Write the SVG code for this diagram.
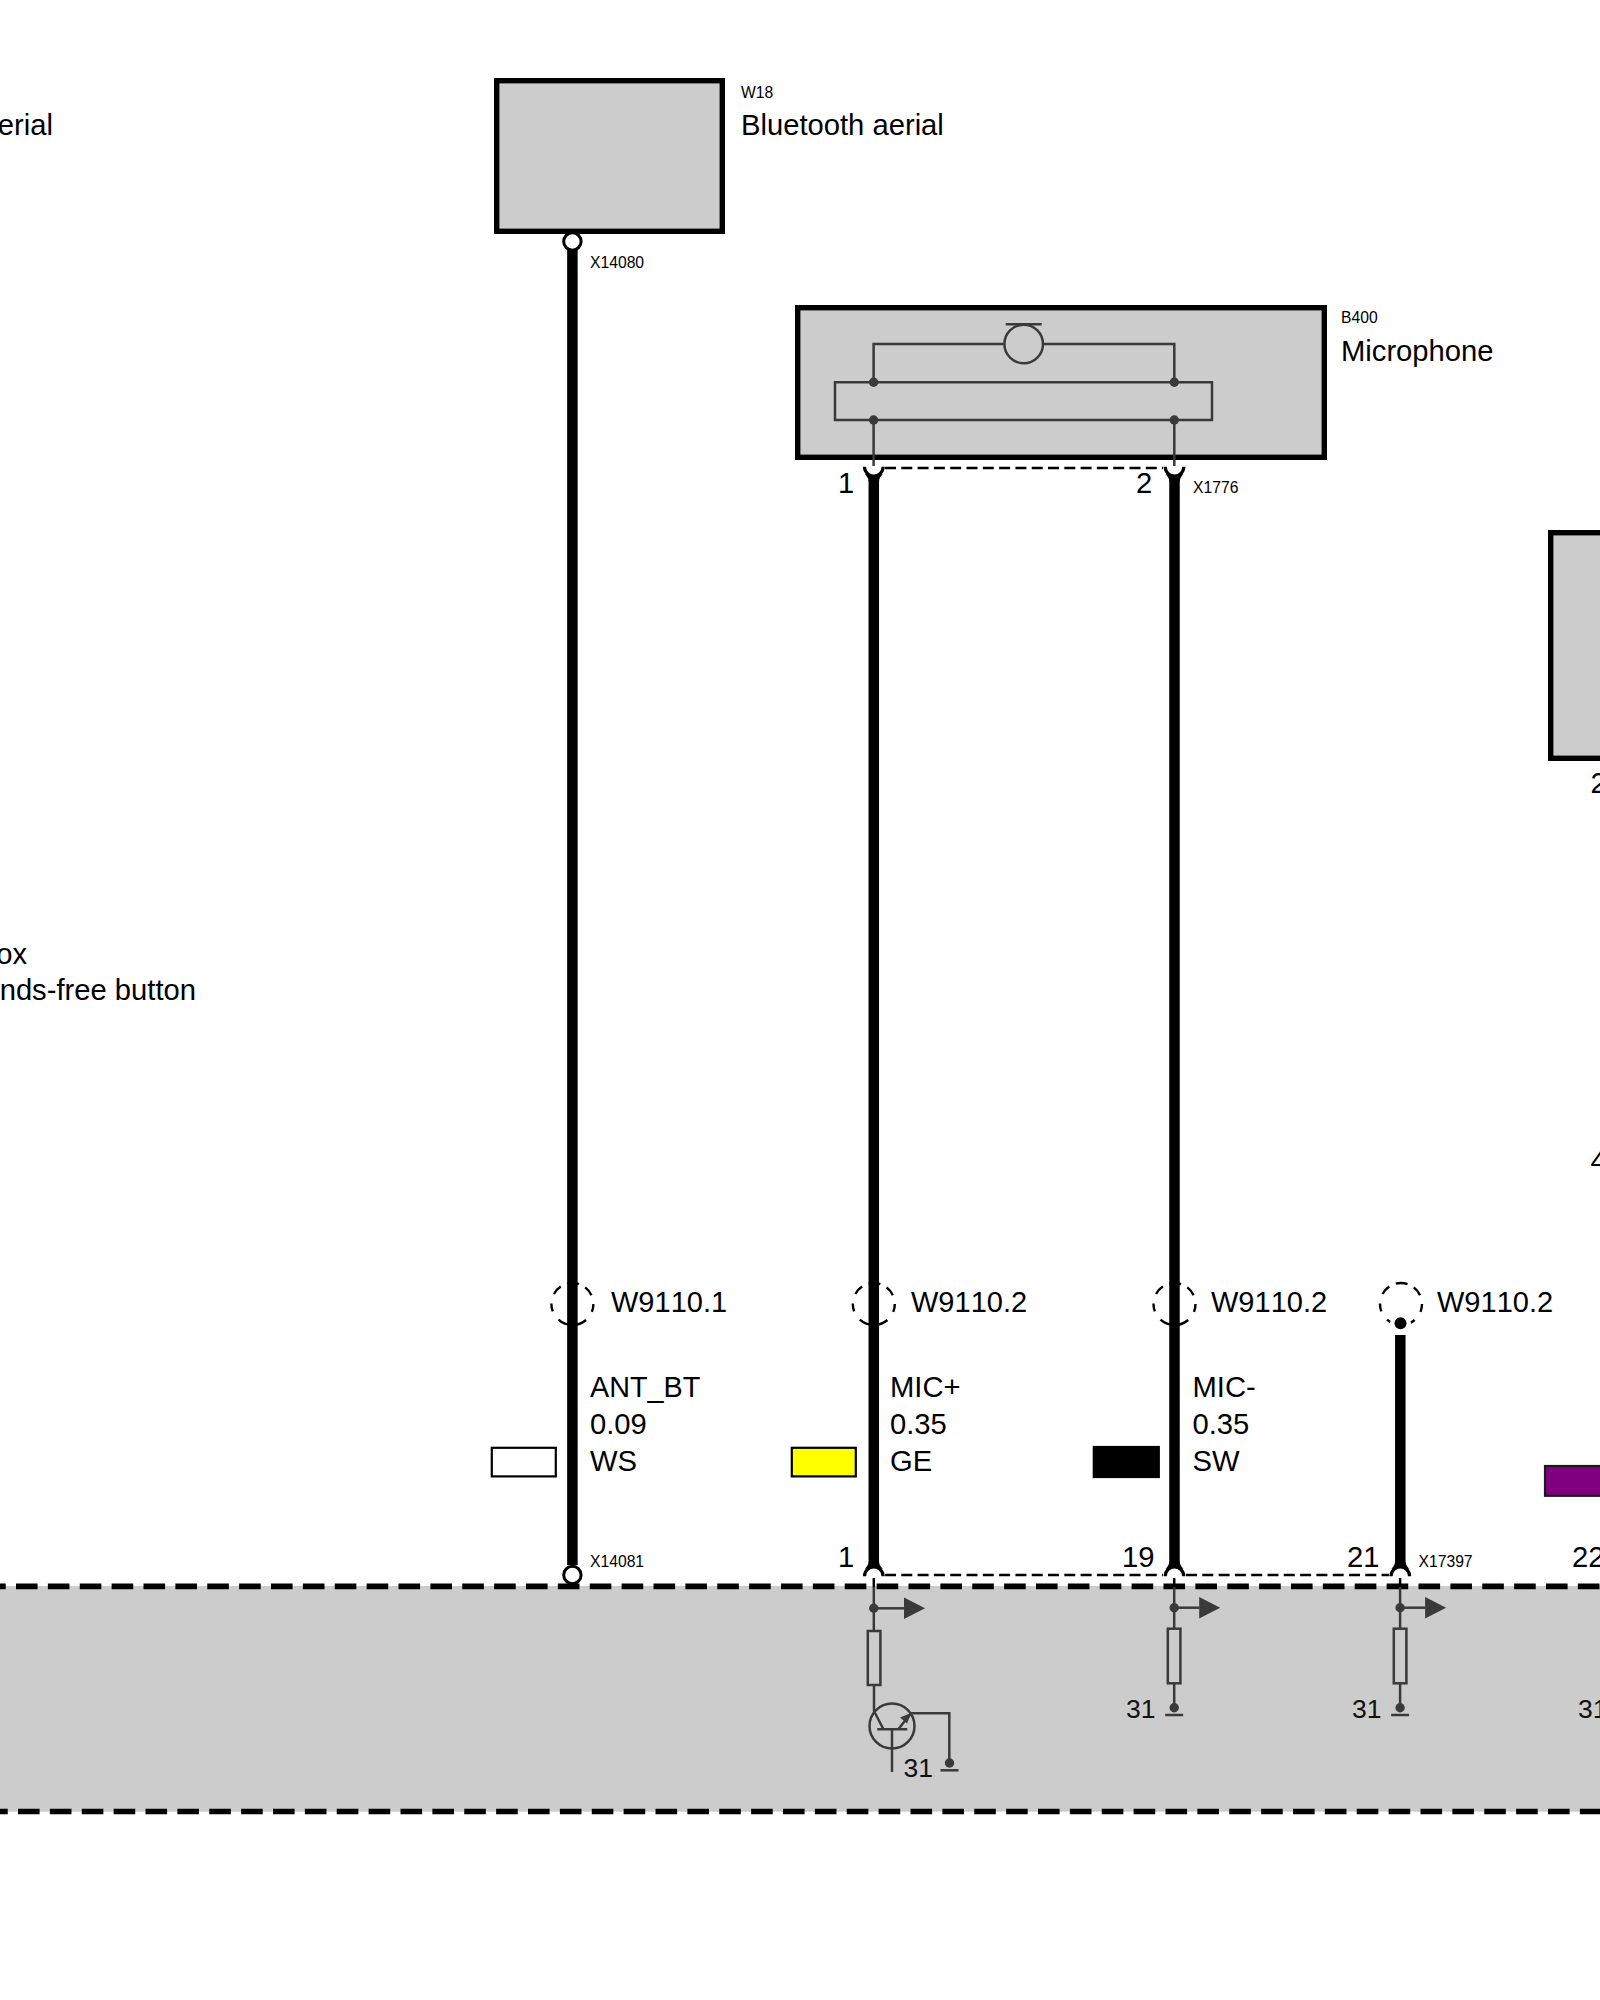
<svg xmlns="http://www.w3.org/2000/svg" width="1600" height="2000" viewBox="0 0 1600 2000">
<style>
text{font-family:"Liberation Sans",Arial,sans-serif;fill:#000}
.t{font-size:29.2px}
.w{font-size:29px;font-kerning:none}
.g{font-size:26.5px;fill:#111}
.s{font-size:15.7px}
.box{fill:#ccc;stroke:#000;stroke-width:5.4}
.wire{stroke:#000;stroke-width:10.5;fill:none}
.in{stroke:#3a3a3a;stroke-width:2.5;fill:none}
.dk{fill:#3a3a3a;stroke:none}
.shield{fill:none;stroke:#000;stroke-width:2.4;stroke-dasharray:8 10 30 10 8 10 10 7 12 7 10 9.9}
.link{fill:none;stroke:#000;stroke-width:2.4;stroke-dasharray:11 5.3}
.edge{fill:none;stroke:#000;stroke-width:5.7;stroke-dasharray:21.6 10.275}
.pin{fill:#fff;stroke:#000;stroke-width:3}
.col{stroke:#000;stroke-width:2.2}
.stub{stroke:#000;stroke-width:2.5;fill:none}
</style>
<defs>
<g id="cupUp"><path d="M-9.3 1.2A9.3 9.3 0 0 1 9.3 1.2" fill="none" stroke="#000" stroke-width="3.2"/><path d="M-5.25 -13Q-5.25 -10 -9 -6L0 -8.2L9 -6Q5.25 -10 5.25 -13Z" fill="#000"/></g>
<g id="cupDown"><path d="M-9.3 -1.2A9.3 9.3 0 0 0 9.3 -1.2" fill="none" stroke="#000" stroke-width="3.2"/><path d="M-5.25 13Q-5.25 10 -9 6L0 8.2L9 6Q5.25 10 5.25 13Z" fill="#000"/></g>
<g id="tap"><circle r="4.7" class="dk"/><path d="M0 0H25" class="in"/><path d="M25 -10.7L46 0L25 10.7Z" class="dk"/></g>
<g id="gnd"><circle r="4.7" class="dk"/><path d="M-9 7.3H9" class="in"/></g>
</defs>

<g id="panel">
<rect x="-10" y="1586" width="1620" height="225.7" fill="#ccc"/>
<path d="M-15.875 1586.3H1610" class="edge"/>
<path d="M-13.875 1811.5H1610" class="edge"/>
</g>

<g id="connectors">
<path d="M572.4 250V1565" class="wire"/>
<path d="M873.8 480V1563" class="wire"/>
<path d="M1174.5 480V1563" class="wire"/>
<path d="M1400.3 1335V1563" class="wire"/>
<path d="M885 468H1163" class="link"/>
<path d="M885 1575H1163" class="link"/>
<path d="M1186 1575H1389" class="link"/>
</g>

<g id="W18">
<rect x="496.7" y="80.7" width="225.6" height="150.6" class="box"/>
<circle cx="572.4" cy="241.5" r="8.7" class="pin"/>
<text x="741" y="97.7" class="s">W18</text>
<text x="741" y="135" class="t">Bluetooth aerial</text>
<text x="590" y="268" class="s">X14080</text>
</g>

<g id="B400">
<rect x="797.7" y="307.7" width="526.6" height="149.6" class="box"/>
<path d="M835 382.3H1212V420H835ZM873.6 420V466M1174.3 420V466M873.6 382V344H1004.5M1043 344H1174.3V382" class="in"/>
<circle cx="1023.7" cy="344" r="19.3" class="in"/>
<path d="M1005.7 324.3H1041.7" class="in"/>
<circle cx="873.6" cy="382.3" r="4.7" class="dk"/>
<circle cx="1174.3" cy="382.3" r="4.7" class="dk"/>
<circle cx="873.6" cy="420" r="4.7" class="dk"/>
<circle cx="1174.3" cy="420" r="4.7" class="dk"/>
<use href="#cupDown" x="873.8" y="468"/>
<use href="#cupDown" x="1174.5" y="468"/>
<text x="1341" y="323" class="s">B400</text>
<text x="1341" y="361" class="t">Microphone</text>
<text x="838" y="493" class="t">1</text>
<text x="1136" y="493" class="t">2</text>
<text x="1193" y="493" class="s">X1776</text>
</g>

<g id="edge-right-box">
<rect x="1550.7" y="532.7" width="70" height="225.6" class="box"/>
<text x="1590.5" y="793" class="t">2</text>
<text x="1590.5" y="1171" class="t">4</text>
</g>

<g id="left-labels">
<text x="53" y="135" text-anchor="end" class="t">erial</text>
<text x="27" y="964.3" text-anchor="end" class="t">ox</text>
<text x="196" y="999.8" text-anchor="end" class="t">nds-free button</text>
</g>

<g id="wire-ant">
<circle cx="572.4" cy="1304" r="21" class="shield"/>
<text x="611" y="1311.7" class="w">W9110.1</text>
<text x="590" y="1396.7" class="t" style="font-size:28.8px">ANT_BT</text>
<text x="590" y="1434" class="t">0.09</text>
<text x="590" y="1471" class="t">WS</text>
<rect x="491.8" y="1447.8" width="64" height="28.6" fill="#fff" class="col"/>
<circle cx="572.4" cy="1575" r="8.7" class="pin"/>
<text x="590" y="1566.7" class="s">X14081</text>
</g>

<g id="wire-mic-plus">
<circle cx="873.8" cy="1304" r="21" class="shield"/>
<text x="911" y="1311.7" class="w">W9110.2</text>
<text x="890" y="1396.7" class="t">MIC+</text>
<text x="890" y="1434" class="t">0.35</text>
<text x="890" y="1471" class="t">GE</text>
<rect x="791.8" y="1447.8" width="64" height="28.6" fill="#ff0" class="col"/>
<text x="838" y="1566.7" class="t">1</text>
<use href="#cupUp" x="873.8" y="1575"/>
<path d="M873.8 1578V1587" class="stub"/>
<path d="M873.8 1587V1631" class="in"/>
<circle cx="873.8" cy="1608.3" r="4.7" class="dk"/>
<path d="M873.8 1608.3H905" class="in"/>
<path d="M904 1597.6L925 1608.3L904 1619Z" class="dk"/>
<rect x="867.8" y="1631" width="12.6" height="54" class="in"/>
<circle cx="892" cy="1726" r="22.5" class="in"/>
<path d="M874 1685V1711L883.3 1729M877.3 1729.3H907.3M892 1729.3V1772M898.3 1729.3L911 1713.3H949.3V1763" class="in"/>
<path d="M911.5 1712.8L900 1717.5L907 1723.5Z" class="dk"/>
<use href="#gnd" x="949.5" y="1763"/>
<text x="903.5" y="1776.7" class="g">31</text>
</g>

<g id="wire-mic-minus">
<circle cx="1174.5" cy="1304" r="21" class="shield"/>
<text x="1211" y="1311.7" class="w">W9110.2</text>
<text x="1192.5" y="1396.7" class="t">MIC-</text>
<text x="1192.5" y="1434" class="t">0.35</text>
<text x="1192.5" y="1471" class="t">SW</text>
<rect x="1093.8" y="1447" width="65" height="30" fill="#000" class="col"/>
<text x="1122" y="1566.7" class="t">19</text>
<use href="#cupUp" x="1174.5" y="1575"/>
<path d="M1174.2 1578V1587" class="stub"/>
<path d="M1174.2 1587V1628M1174.2 1684V1707" class="in"/>
<use href="#tap" x="1174.2" y="1607.7"/>
<rect x="1167.8" y="1628.7" width="12.6" height="54.6" class="in"/>
<use href="#gnd" x="1174.2" y="1707.7"/>
<text x="1126" y="1717.7" class="g">31</text>
</g>

<g id="wire-21">
<circle cx="1401" cy="1304" r="21" class="shield"/>
<circle cx="1400.5" cy="1323.3" r="10.5" fill="#fff"/>
<circle cx="1400.5" cy="1323.3" r="6" fill="#000"/>
<text x="1437" y="1311.7" class="w">W9110.2</text>
<text x="1347" y="1566.7" class="t">21</text>
<text x="1418.5" y="1566.7" class="s">X17397</text>
<use href="#cupUp" x="1400.3" y="1575"/>
<path d="M1400.1 1578V1587" class="stub"/>
<path d="M1400.1 1587V1628M1400.1 1684V1707" class="in"/>
<use href="#tap" x="1400.1" y="1607.7"/>
<rect x="1393.8" y="1628.7" width="12.6" height="54.6" class="in"/>
<use href="#gnd" x="1400.1" y="1707.7"/>
<text x="1352" y="1717.7" class="g">31</text>
</g>

<g id="wire-22">
<rect x="1545" y="1466" width="70" height="29.8" fill="#800080" stroke="#1a1a1a" stroke-width="2.2"/>
<text x="1572" y="1566.7" class="t">22</text>
<text x="1578" y="1717.7" class="g">31</text>
</g>
</svg>
